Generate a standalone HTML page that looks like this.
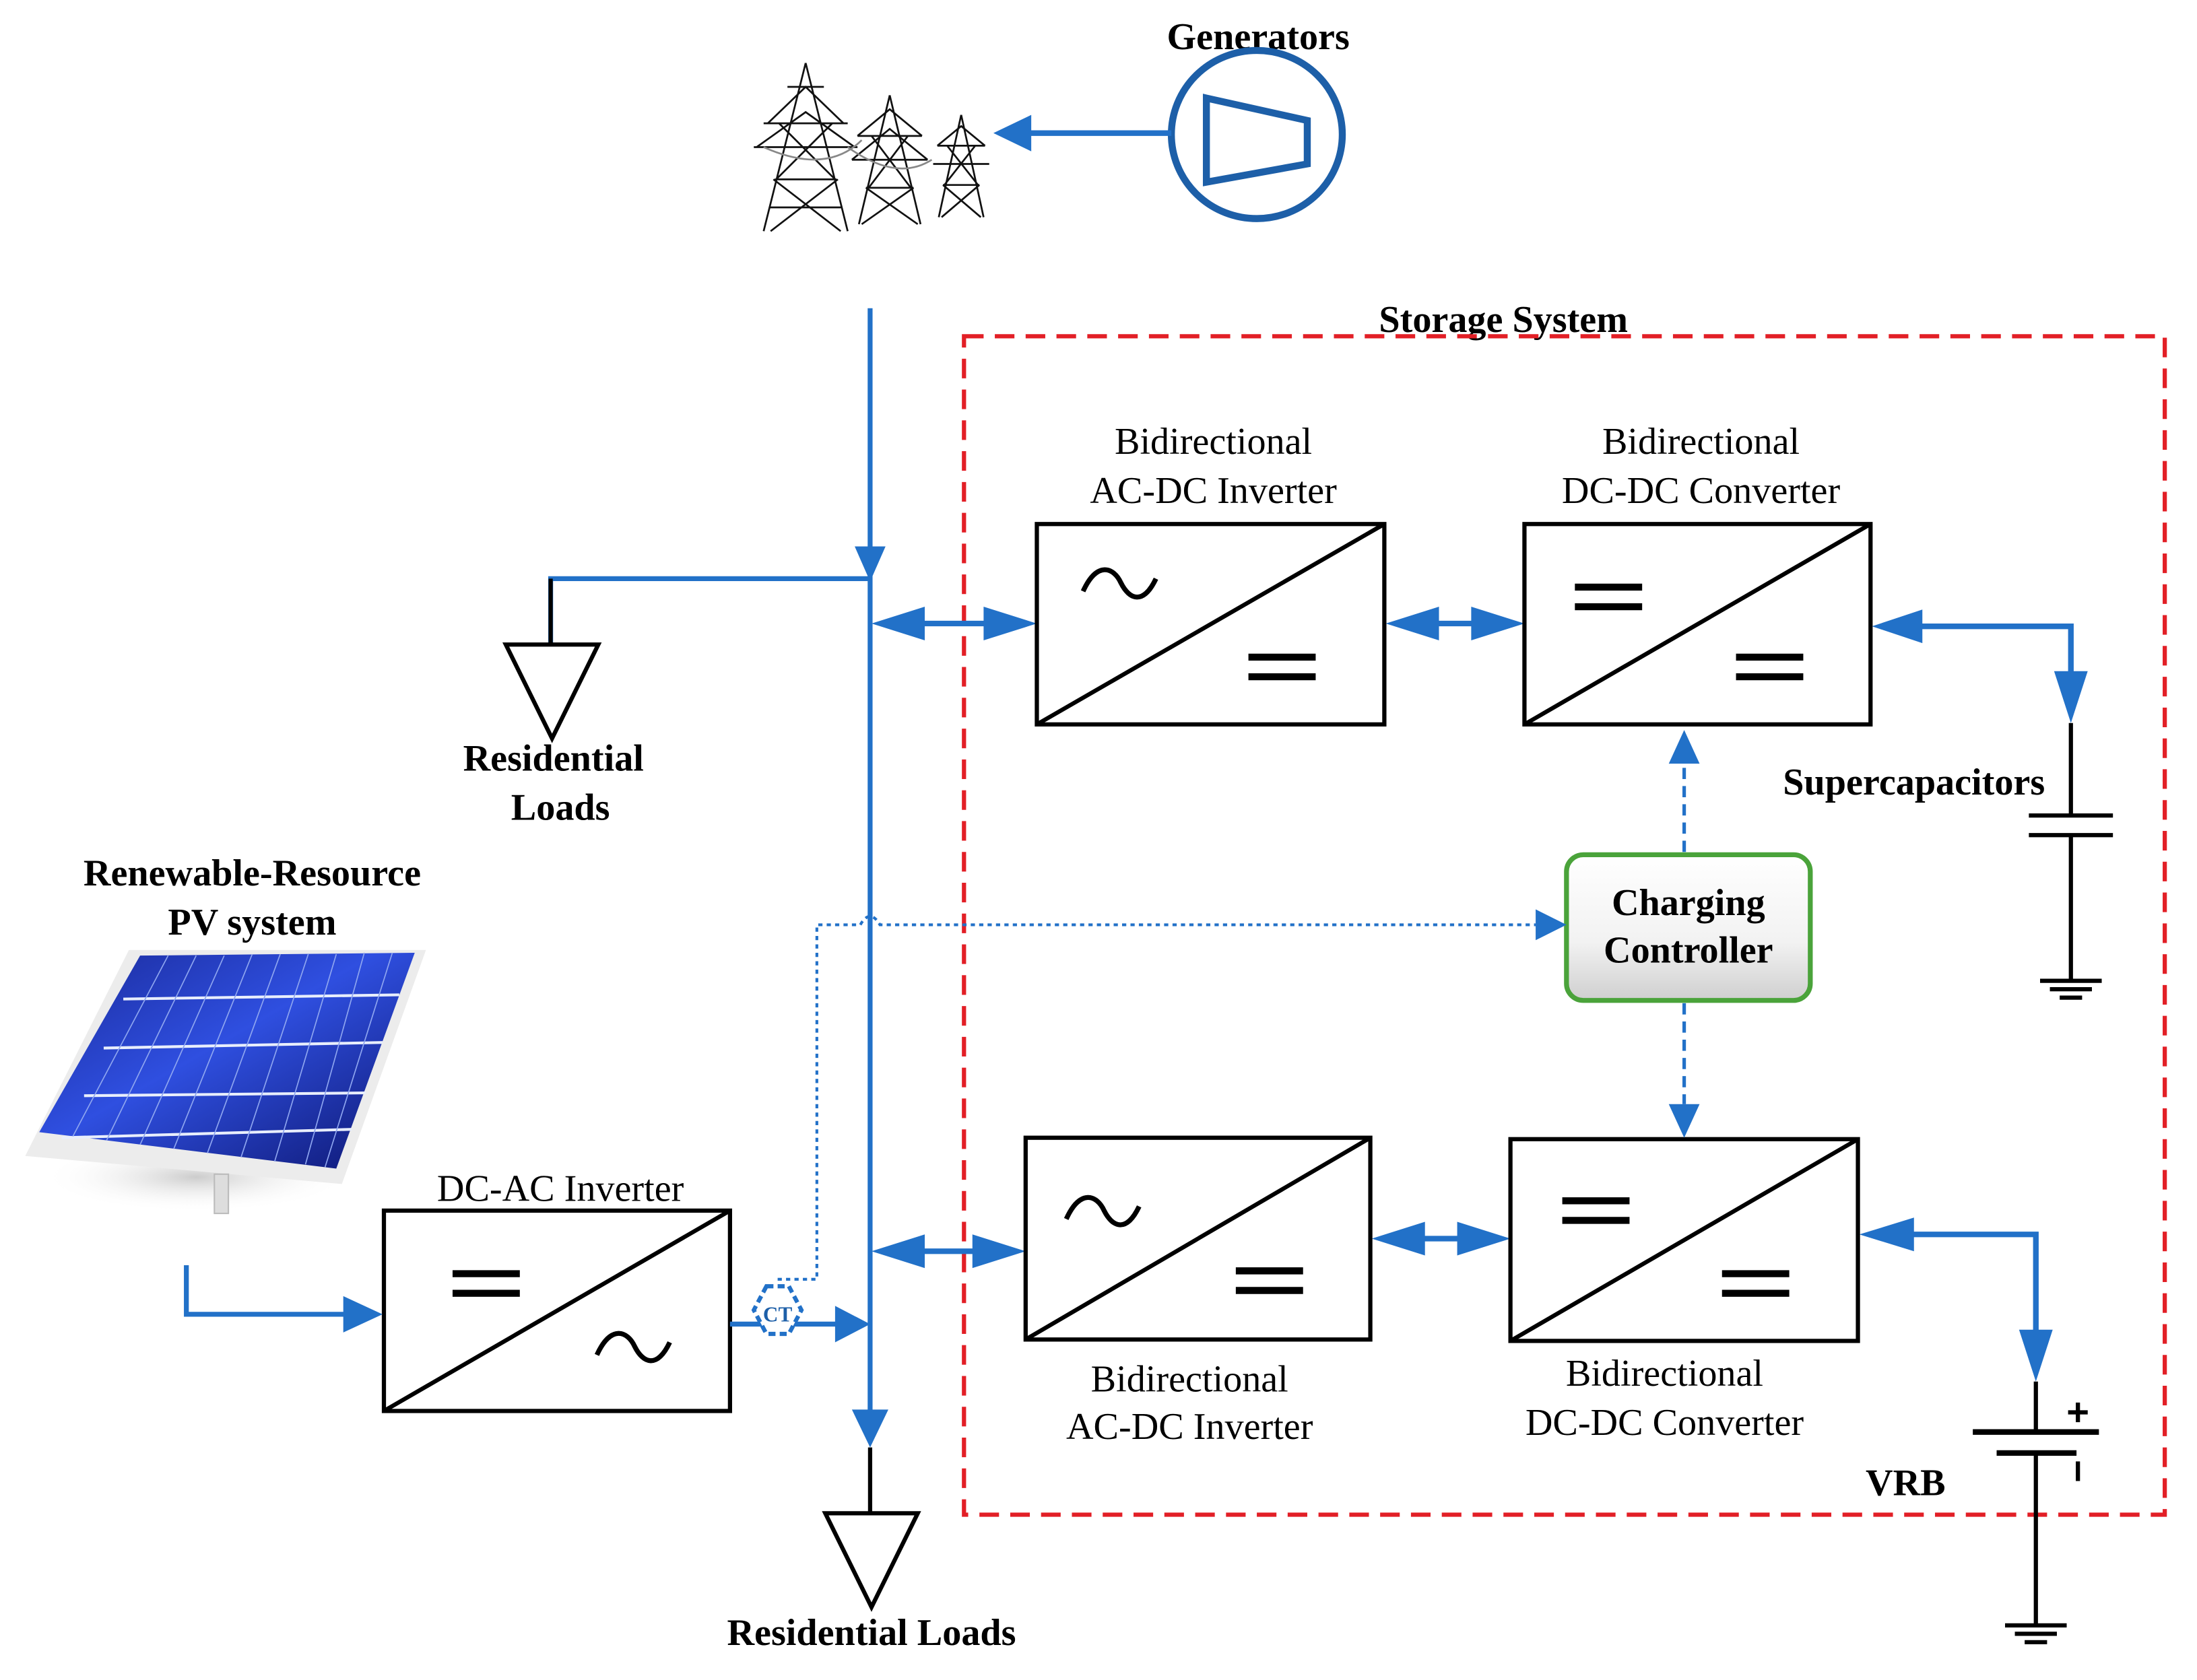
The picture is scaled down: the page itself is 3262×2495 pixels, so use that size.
<!DOCTYPE html>
<html><head><meta charset="utf-8"><style>
html,body{margin:0;padding:0;background:#fff;}
svg{display:block;}
text{font-family:"Liberation Serif",serif;fill:#000;}
.b{font-weight:bold;}
</style></head><body>
<svg width="3262" height="2495" viewBox="0 0 1568 1199" preserveAspectRatio="none" xmlns="http://www.w3.org/2000/svg">
<defs>
<linearGradient id="pv" x1="0" y1="0" x2="1" y2="1">
<stop offset="0" stop-color="#1a2a9a"/><stop offset="0.45" stop-color="#2f4fe0"/><stop offset="1" stop-color="#0d1670"/>
</linearGradient>
<linearGradient id="cc" x1="0" y1="0" x2="0" y2="1">
<stop offset="0" stop-color="#ffffff"/><stop offset="0.6" stop-color="#f2f2f2"/><stop offset="1" stop-color="#cfcfcf"/>
</linearGradient>
<radialGradient id="sh" cx="0.5" cy="0.5" r="0.5"><stop offset="0" stop-color="#ccc"/><stop offset="1" stop-color="#fff" stop-opacity="0"/></radialGradient>
</defs>

<text x="898" y="35" class="b" font-size="27" text-anchor="middle">Generators</text>
<ellipse cx="897" cy="96" rx="61" ry="60" fill="none" stroke="#1d5fa8" stroke-width="5"/>
<polygon points="861,70 933,86 933,117 861,130" fill="none" stroke="#1d5fa8" stroke-width="5"/>
<line x1="836" y1="95" x2="735" y2="95" stroke="#2271c8" stroke-width="4"/>
<polygon points="709,95 736,82 736,108" fill="#2271c8"/>

<g stroke="#111" stroke-width="1.3" fill="none">
<path d="M575,45 L545,165 M575,45 L605,165 M545,88 L605,88 M538,105 L612,105 M553,128 L597,128 M549,148 L601,148 M556,88 L596,128 M594,88 L554,128 M552,128 L600,165 M598,128 L550,165 M562,62 L588,62 M548,88 L575,62 L602,88 M540,105 L575,80 L610,105"/>
<path d="M635,68 L613,160 M635,68 L657,160 M612,97 L658,97 M608,114 L662,114 M618,134 L652,134 M622,97 L650,134 M648,97 L620,134 M618,134 L655,160 M652,134 L615,160 M612,97 L635,78 L658,97 M608,114 L635,92 L662,114"/>
<path d="M686,82 L670,155 M686,82 L702,155 M669,104 L703,104 M666,117 L706,117 M673,132 L699,132 M676,104 L698,132 M696,104 L674,132 M673,132 L700,155 M699,132 L672,155 M669,104 L686,90 L703,104"/>
<path d="M545,105 Q590,125 615,100 M605,105 Q640,130 665,114" stroke="#888"/>
</g>

<text x="1073" y="237" class="b" font-size="27" text-anchor="middle">Storage System</text>
<rect x="688" y="240" width="857" height="841" fill="none" stroke="#e21f26" stroke-width="3" stroke-dasharray="14,8"/>

<line x1="621" y1="220" x2="621" y2="1008" stroke="#2271c8" stroke-width="3.5"/>
<polygon points="621,415 610,390 632,390" fill="#2271c8"/>
<polygon points="621,1033 608,1006 634,1006" fill="#2271c8"/>
<line x1="621" y1="1033" x2="621" y2="1080" stroke="#000" stroke-width="3"/>
<polygon points="589,1080 655,1080 622,1147" fill="none" stroke="#000" stroke-width="3"/>
<text x="622" y="1174" class="b" font-size="27" text-anchor="middle">Residential Loads</text>

<polyline points="621,413 393,413 393,460" fill="none" stroke="#2271c8" stroke-width="3.5"/>
<line x1="393" y1="413" x2="393" y2="460" stroke="#000" stroke-width="3"/>
<polygon points="361,460 427,460 394,527" fill="none" stroke="#000" stroke-width="3"/>
<text x="395" y="550" class="b" font-size="27" text-anchor="middle">Residential</text>
<text x="400" y="585" class="b" font-size="27" text-anchor="middle">Loads</text>

<g fill="#2271c8">
<line x1="640" y1="445" x2="720" y2="445" stroke="#2271c8" stroke-width="4"/>
<polygon points="622,445 660,433 660,457"/><polygon points="740,445 702,433 702,457"/>
<line x1="1005" y1="445" x2="1070" y2="445" stroke="#2271c8" stroke-width="4"/>
<polygon points="989,445 1027,433 1027,457"/><polygon points="1088,445 1050,433 1050,457"/>
<polyline points="1350,447 1478,447 1478,490" fill="none" stroke="#2271c8" stroke-width="4"/>
<polygon points="1336,447 1372,435 1372,459"/><polygon points="1478,516 1466,479 1490,479"/>
<line x1="640" y1="893" x2="712" y2="893" stroke="#2271c8" stroke-width="4"/>
<polygon points="622,893 660,881 660,905"/><polygon points="732,893 694,881 694,905"/>
<line x1="995" y1="884" x2="1060" y2="884" stroke="#2271c8" stroke-width="4"/>
<polygon points="979,884 1017,872 1017,896"/><polygon points="1078,884 1040,872 1040,896"/>
<polyline points="1345,881 1453,881 1453,960" fill="none" stroke="#2271c8" stroke-width="4"/>
<polygon points="1327,881 1366,869 1366,893"/><polygon points="1453,986 1441,949 1465,949"/>
</g>

<g fill="none" stroke="#000" stroke-width="3">
<rect x="740" y="374" width="248" height="143"/><line x1="740" y1="517" x2="988" y2="374"/>
<rect x="1088" y="374" width="247" height="143"/><line x1="1088" y1="517" x2="1335" y2="374"/>
<rect x="732" y="812" width="246" height="144"/><line x1="732" y1="956" x2="978" y2="812"/>
<rect x="1078" y="813" width="248" height="144"/><line x1="1078" y1="957" x2="1326" y2="813"/>
<rect x="274" y="864" width="247" height="143"/><line x1="274" y1="1007" x2="521" y2="864"/>
</g>
<g stroke="#000" stroke-width="5" fill="none">
<path d="M773,422 C783,400 795,405 800,416 C806,428 816,432 825,413" stroke-width="3.5"/>
<path d="M891,469 H939 M891,483 H939"/>
<path d="M1124,419 H1172 M1124,433 H1172"/>
<path d="M1239,469 H1287 M1239,483 H1287"/>
<path d="M761,870 C771,848 783,853 788,864 C794,876 804,880 813,861" stroke-width="3.5"/>
<path d="M882,907 H930 M882,921 H930"/>
<path d="M1115,857 H1163 M1115,871 H1163"/>
<path d="M1229,909 H1277 M1229,923 H1277"/>
<path d="M323,909 H371 M323,923 H371"/>
<path d="M426,967 C436,945 448,950 453,961 C459,973 469,977 478,958" stroke-width="3.5"/>
</g>

<g font-size="27" text-anchor="middle">
<text x="866" y="324">Bidirectional</text><text x="866" y="359">AC-DC Inverter</text>
<text x="1214" y="324">Bidirectional</text><text x="1214" y="359">DC-DC Converter</text>
<text x="849" y="993">Bidirectional</text><text x="849" y="1027">AC-DC Inverter</text>
<text x="1188" y="989">Bidirectional</text><text x="1188" y="1024">DC-DC Converter</text>
<text x="400" y="857">DC-AC Inverter</text>
</g>

<g stroke="#000" stroke-width="3">
<line x1="1478" y1="516" x2="1478" y2="582"/>
<line x1="1448" y1="582" x2="1508" y2="582"/><line x1="1448" y1="596" x2="1508" y2="596"/>
<line x1="1478" y1="596" x2="1478" y2="700"/>
<line x1="1456" y1="700" x2="1500" y2="700"/><line x1="1463" y1="706" x2="1493" y2="706"/><line x1="1470" y1="712" x2="1486" y2="712"/>
</g>
<text x="1366" y="567" class="b" font-size="27" text-anchor="middle">Supercapacitors</text>

<g stroke="#000" stroke-width="3">
<line x1="1453" y1="986" x2="1453" y2="1022"/>
<line x1="1408" y1="1022" x2="1498" y2="1022" stroke-width="4"/>
<line x1="1425" y1="1037" x2="1482" y2="1037" stroke-width="4"/>
<line x1="1453" y1="1037" x2="1453" y2="1160"/>
<line x1="1431" y1="1160" x2="1475" y2="1160"/><line x1="1438" y1="1166" x2="1468" y2="1166"/><line x1="1445" y1="1172" x2="1461" y2="1172"/>
<line x1="1476" y1="1008" x2="1490" y2="1008"/><line x1="1483" y1="1001" x2="1483" y2="1015"/>
<line x1="1483" y1="1043" x2="1483" y2="1057"/>
</g>
<text x="1360" y="1067" class="b" font-size="27" text-anchor="middle">VRB</text>

<rect x="1118" y="610" width="174" height="104" rx="12" fill="url(#cc)" stroke="#4aa33a" stroke-width="3.5"/>
<text x="1205" y="653" class="b" font-size="27" text-anchor="middle">Charging</text>
<text x="1205" y="687" class="b" font-size="27" text-anchor="middle">Controller</text>
<line x1="1202" y1="608" x2="1202" y2="545" stroke="#2271c8" stroke-width="2.5" stroke-dasharray="8,5"/>
<polygon points="1202,521 1191,545 1213,545" fill="#2271c8"/>
<line x1="1202" y1="716" x2="1202" y2="788" stroke="#2271c8" stroke-width="2.5" stroke-dasharray="8,5"/>
<polygon points="1202,812 1191,788 1213,788" fill="#2271c8"/>
<path d="M555,913 L583,913 L583,660 L614,660 Q621,648 628,660 L1096,660" fill="none" stroke="#2271c8" stroke-width="2" stroke-dasharray="3,3"/>
<polygon points="1118,660 1096,649 1096,671" fill="#2271c8"/>

<text x="180" y="632" class="b" font-size="27" text-anchor="middle">Renewable-Resource</text>
<text x="180" y="667" class="b" font-size="27" text-anchor="middle">PV system</text>

<ellipse cx="140" cy="840" rx="110" ry="25" fill="url(#sh)"/>
<polygon points="92,678 304,678 244,845 18,825" fill="#ececec"/>
<polygon points="100,682 296,680 240,834 28,808" fill="url(#pv)"/>
<g stroke="#e8eefc" stroke-width="2">
<line x1="88" y1="713" x2="285" y2="710"/><line x1="74" y1="748" x2="273" y2="744"/><line x1="60" y1="782" x2="261" y2="780"/><line x1="44" y1="812" x2="251" y2="806"/>
</g>
<g stroke="#8fa6f0" stroke-width="0.8">
<line x1="120" y1="682" x2="52" y2="811"/><line x1="140" y1="682" x2="76" y2="814"/><line x1="160" y1="682" x2="100" y2="817"/><line x1="180" y1="681" x2="124" y2="820"/><line x1="200" y1="681" x2="148" y2="823"/><line x1="220" y1="681" x2="172" y2="826"/><line x1="240" y1="681" x2="196" y2="829"/><line x1="260" y1="680" x2="218" y2="831"/><line x1="280" y1="680" x2="232" y2="833"/>
</g>
<rect x="153" y="838" width="10" height="28" fill="#ddd" stroke="#bbb"/>

<polyline points="133,903 133,938 250,938" fill="none" stroke="#2271c8" stroke-width="3.5"/>
<polygon points="273,938 245,925 245,951" fill="#2271c8"/>
<line x1="521" y1="945" x2="600" y2="945" stroke="#2271c8" stroke-width="3.5"/>
<polygon points="621,945 596,932 596,958" fill="#2271c8"/>
<polygon points="547,918 563,918 572,935 563,952 547,952 538,935" fill="#fff" stroke="#2271c8" stroke-width="3" stroke-dasharray="5,3"/>
<text x="555" y="943" font-size="15" class="b" text-anchor="middle" style="fill:#1d5fa8">CT</text>
</svg>
</body></html>
